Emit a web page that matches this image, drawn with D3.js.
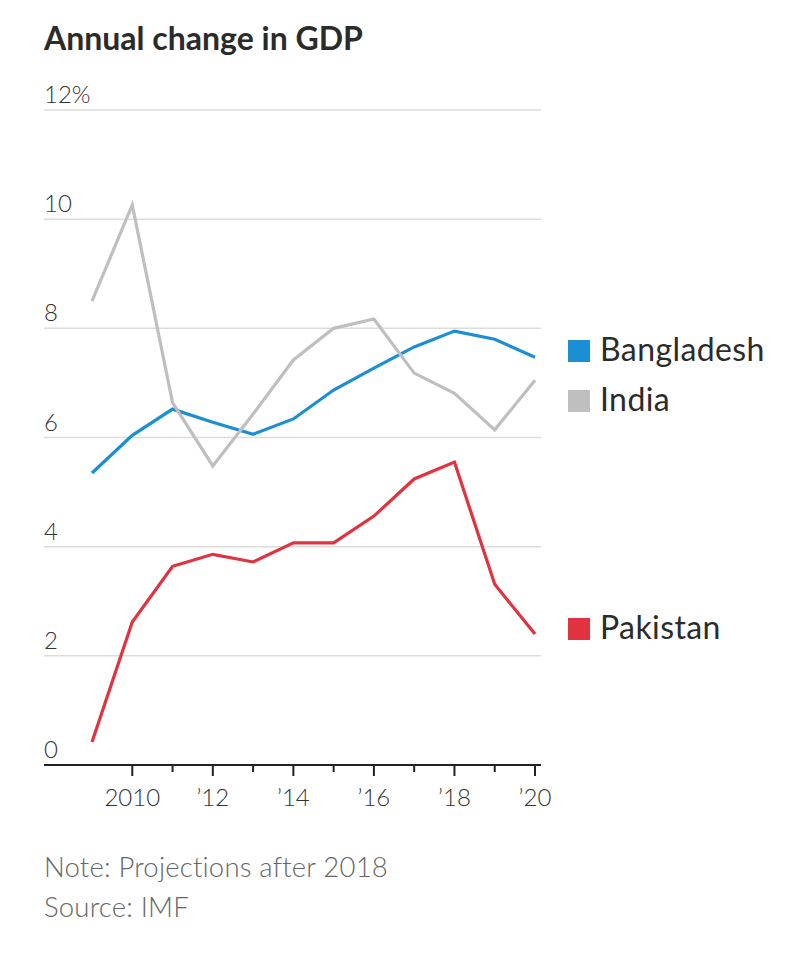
<!DOCTYPE html>
<html>
<head>
<meta charset="utf-8">
<script src="https://cdn.jsdelivr.net/npm/d3@7"></script>
<style>
  html, body { margin: 0; padding: 0; background: #fff; }
  svg { display: block; }
</style>
</head>
<body>
<svg id="chart" width="808" height="960"></svg>
<script>
const years = [2009, 2010, 2011, 2012, 2013, 2014, 2015, 2016, 2017, 2018, 2019, 2020];
const bangladesh = [5.35, 6.04, 6.52, 6.28, 6.06, 6.34, 6.87, 7.27, 7.66, 7.95, 7.8, 7.47];
const india = [8.5, 10.26, 6.64, 5.48, 6.43, 7.42, 8.0, 8.17, 7.18, 6.81, 6.14, 7.05];
const pakistan = [0.42, 2.62, 3.64, 3.86, 3.72, 4.07, 4.07, 4.56, 5.24, 5.55, 3.31, 2.4];
const seriesNames = ["Bangladesh", "India", "Pakistan"];
const seriesColors = ["#1a8fd3", "#bfbfbf", "#e0333f"];
const yTicks = [0, 2, 4, 6, 8, 10, 12];
const yTickLabels = ["0", "2", "4", "6", "8", "10", "12%"];
const xTickYears = [2010, 2012, 2014, 2016, 2018, 2020];
const xTickLabels = ["2010", "’12", "’14", "’16", "’18", "’20"];
const title = "Annual change in GDP";
const notes = ["Note: Projections after 2018", "Source: IMF"];

const series = [bangladesh, india, pakistan];
const svg = d3.select("#chart");
const font = "Lato, 'Noto Sans', sans-serif";

const x = d3.scaleLinear().domain([2009, 2020]).range([92, 535]);
const y = d3.scaleLinear().domain([0, 12]).range([765, 110]);
const left = 44, right = 541;

svg.append("text").attr("x", 44).attr("y", 50)
  .attr("font-family", font).attr("font-weight", 700).attr("font-size", 32)
  .attr("fill", "#2b2b2b").text(title);

// gridlines
svg.append("g").selectAll("line").data(yTicks.filter(d => d > 0)).join("line")
  .attr("x1", left).attr("x2", right)
  .attr("y1", d => y(d)).attr("y2", d => y(d))
  .attr("stroke", "#dcdcdc").attr("stroke-width", 1.5);

// y labels
svg.append("g").selectAll("text").data(yTicks).join("text")
  .attr("x", left).attr("y", d => y(d) - 7)
  .attr("font-family", font).attr("font-weight", 300).attr("font-size", 24)
  .attr("fill", "#333").text((d, i) => yTickLabels[i]);

// lines
const line = d3.line().x((d, i) => x(years[i])).y(d => y(d));
svg.append("g").selectAll("path").data(series).join("path")
  .attr("d", d => line(d))
  .attr("fill", "none")
  .attr("stroke", (d, i) => seriesColors[i])
  .attr("stroke-width", 3.2)
  .attr("stroke-linejoin", "miter");

// x axis
const xAxis = svg.append("g").attr("transform", `translate(0,${y(0)})`);
xAxis.append("line").attr("x1", left).attr("x2", right).attr("y1", 0).attr("y2", 0)
  .attr("stroke", "#222").attr("stroke-width", 2);
xAxis.selectAll("line.tick").data(years.slice(1)).join("line").attr("class", "tick")
  .attr("x1", d => x(d)).attr("x2", d => x(d))
  .attr("y1", 0).attr("y2", d => xTickYears.includes(d) ? 11 : 7)
  .attr("stroke", "#222").attr("stroke-width", 2);
xAxis.selectAll("text").data(xTickYears).join("text")
  .attr("x", d => x(d)).attr("y", 41)
  .attr("text-anchor", "middle")
  .attr("font-family", font).attr("font-weight", 300).attr("font-size", 24)
  .attr("fill", "#333").text((d, i) => xTickLabels[i]);

// legend
const legendY = [351, 401, 629];
const lg = svg.append("g").selectAll("g").data(seriesNames).join("g")
  .attr("transform", (d, i) => `translate(568,${legendY[i]})`);
lg.append("rect").attr("x", 0).attr("y", -11).attr("width", 22).attr("height", 22)
  .attr("fill", (d, i) => seriesColors[i]);
lg.append("text").attr("x", 32).attr("y", 10)
  .attr("font-family", font).attr("font-weight", 400).attr("font-size", 32)
  .attr("letter-spacing", 0.4)
  .attr("fill", "#2b2b2b").text(d => d);

// notes
svg.append("g").selectAll("text").data(notes).join("text")
  .attr("x", 44).attr("y", (d, i) => 877 + i * 40)
  .attr("font-family", font).attr("font-weight", 300).attr("font-size", 27.5)
  .attr("letter-spacing", 0.2)
  .attr("fill", "#666").text(d => d);
</script>
</body>
</html>
